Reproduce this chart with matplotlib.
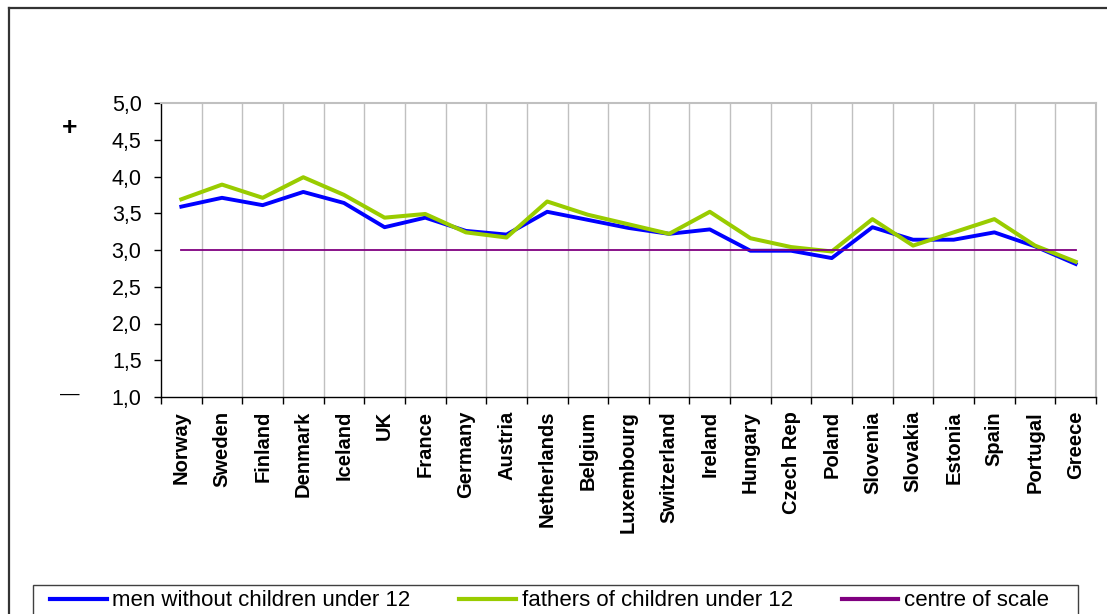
import matplotlib
matplotlib.use("Agg")
import matplotlib.pyplot as plt
from matplotlib.lines import Line2D
from matplotlib.patches import Rectangle

countries = ["Norway", "Sweden", "Finland", "Denmark", "Iceland", "UK", "France",
             "Germany", "Austria", "Netherlands", "Belgium", "Luxembourg", "Switzerland",
             "Ireland", "Hungary", "Czech Rep", "Poland", "Slovenia", "Slovakia",
             "Estonia", "Spain", "Portugal", "Greece"]
men_without = [3.59, 3.71, 3.61, 3.79, 3.64, 3.31, 3.44, 3.26, 3.21, 3.52, 3.41, 3.30,
               3.22, 3.28, 2.99, 2.99, 2.89, 3.31, 3.14, 3.14, 3.24, 3.05, 2.81]
fathers = [3.69, 3.89, 3.71, 3.99, 3.75, 3.44, 3.49, 3.24, 3.17, 3.66, 3.48, 3.35,
           3.22, 3.52, 3.16, 3.04, 2.98, 3.42, 3.06, 3.24, 3.42, 3.06, 2.84]
centre = [3.0] * len(countries)
ytick_vals = [1.0, 1.5, 2.0, 2.5, 3.0, 3.5, 4.0, 4.5, 5.0]
ytick_labels = ["1,0", "1,5", "2,0", "2,5", "3,0", "3,5", "4,0", "4,5", "5,0"]
series_labels = ["men without children under 12", "fathers of children under 12", "centre of scale"]

plt.rcParams['font.family'] = ['Liberation Sans', 'DejaVu Sans']

W, H = 1107, 614
fig = plt.figure(figsize=(W / 100, H / 100), dpi=100)
fig.patch.set_facecolor("white")

ax = fig.add_axes([161 / W, (H - 397) / H, 935 / W, 294 / H])
x = list(range(len(countries)))

ax.plot(x, men_without, color="#0000ff", lw=2.8, label=series_labels[0], zorder=3)
ax.plot(x, fathers, color="#99cc00", lw=2.9, label=series_labels[1], zorder=4)
ax.plot(x, centre, color="#800080", lw=1.3, label=series_labels[2], zorder=5)

ax.set_xlim(-0.5, len(countries) - 0.5)
ax.set_ylim(1.0, 5.0)

# category boundaries: gridlines and ticks
bounds = [i - 0.5 for i in range(len(countries) + 1)]
for b in bounds[1:-1]:
    ax.axvline(b, color="#c0c0c0", lw=1.0, zorder=1)
ax.set_xticks(bounds, minor=False)
ax.set_xticklabels([])
ax.tick_params(axis="x", which="major", direction="out", length=5, width=1, color="black")
ax.set_xticks(x, minor=True)
ax.set_xticklabels(countries, minor=True, rotation=90, fontsize=14.5, fontweight="bold",
                   va="top", ha="center")
ax.tick_params(axis="x", which="minor", length=0, pad=10)

ax.set_yticks(ytick_vals)
ax.set_yticklabels(ytick_labels, fontsize=15.5)
ax.tick_params(axis="y", direction="out", length=5, width=1, color="black", pad=9)

for s in ["left", "bottom"]:
    ax.spines[s].set_color("black")
    ax.spines[s].set_linewidth(1.0)
for s in ["top", "right"]:
    ax.spines[s].set_color("#c0c0c0")
    ax.spines[s].set_linewidth(1.5)

# + / - markers
fig.text(70 / W, 1 - 128 / H, "+", fontsize=19, fontweight="bold", ha="center", va="center")
fig.text(70 / W, 1 - 394 / H, "\u2014", fontsize=14, ha="center", va="center")

# outer frame (left and top edges visible)
fig.add_artist(Line2D([9 / W, 9 / W], [0, 1 - 8 / H], transform=fig.transFigure, color="#333333", lw=1.6))
fig.add_artist(Line2D([9 / W, 1.0], [1 - 8 / H, 1 - 8 / H], transform=fig.transFigure, color="#333333", lw=1.6))

# legend box
fig.add_artist(Rectangle((33 / W, -10 / H), (1078 - 33) / W, (614 - 585 + 10) / H,
                         transform=fig.transFigure, facecolor="white", edgecolor="#404040",
                         lw=1.0, zorder=0))
leg = fig.legend(loc="center left", bbox_to_anchor=(50 / W, 1 - 601 / H),
                 ncol=3, fontsize=16, frameon=False,
                 handlelength=2.55, handletextpad=0.25,
                 borderaxespad=0, borderpad=0, columnspacing=2.2)
for lh in leg.get_lines():
    lh.set_linewidth(3)

fig.savefig("out.png", dpi=100)
